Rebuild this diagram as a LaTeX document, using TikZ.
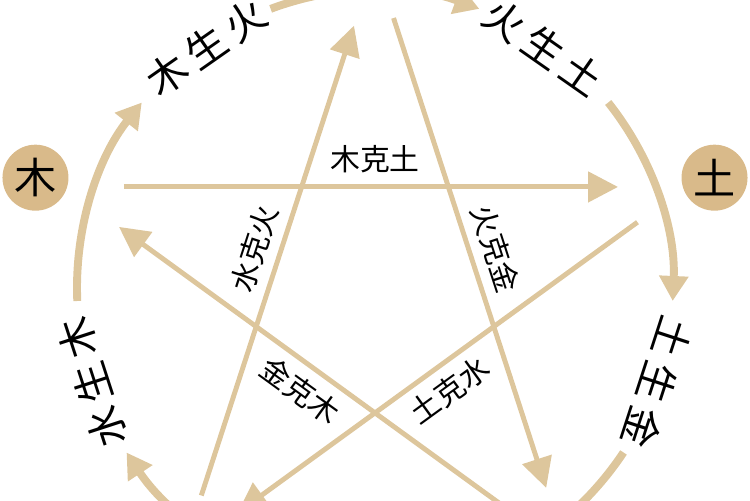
\documentclass[tikz,border=0pt]{standalone}
\usepackage{fontspec}
\newfontfamily\cjk{Noto Sans CJK SC}
\usetikzlibrary{shapes,positioning,arrows.meta}
\definecolor{elemfill}{RGB}{217,186,138}
\definecolor{arrowtan}{RGB}{221,198,156}

\begin{document}
\begin{tikzpicture}[x=0.02cm,y=0.02cm,font=\cjk,
    elem/.style={circle,fill=elemfill,minimum size=1.32cm,inner sep=0,font=\cjk\fontsize{24}{28}\selectfont},
    shenglabel/.style={inner sep=0,font=\cjk\fontsize{23}{27}\selectfont},
    kelabel/.style={sloped,midway,font=\cjk\fontsize{17}{20}\selectfont},
    sheng/.style={draw=arrowtan,line width=4.5pt,-{Triangle[length=0.5cm,width=0.56cm]}},
    ke/.style={draw=arrowtan,line width=2.8pt,shorten <=1.2cm,shorten >=1.36cm,-{Triangle[length=0.6cm,width=0.6cm]}}]

\path[use as bounding box,clip] (-375,-212) rectangle (375,288);

% Elements
\node[elem] (wood) at (162:357) {木};
\node[elem] (earth) at (18:357) {土};
\coordinate (fire) at (90:357);
\coordinate (metal) at (-54:357);
\coordinate (water) at (234:357);

% Star points
\coordinate (woodstar) at (162:327);
\coordinate (firestar) at (90:327);
\coordinate (earthstar) at (18:327);
\coordinate (metalstar) at (-54:327);
\coordinate (waterstar) at (234:327);

% Outer ring starts
\coordinate (woodarc) at (182.5:298);
\coordinate (firearc) at (110.5:298);
\coordinate (eartharc) at (38.5:298);
\coordinate (metalarc) at (-33.5:298);
\coordinate (waterarc) at (254.5:298);

% Outer labels
\node[shenglabel,rotate=35] (mushenghuo) at (125:294) {木\,生\,火};
\node[shenglabel,rotate=-35] (huoshengtu) at (55:294) {火\,生\,土};
\node[shenglabel,rotate=-108] (tushengjin) at (-18.5:298) {土\,生\,金};
\node[shenglabel,rotate=108] (shuishengmu) at (198.5:298) {水\,生\,木};

% Outer arrows
\draw[sheng] (woodarc) arc[start angle=182.5,end angle=141.5,radius=298];
\draw[sheng] (firearc) arc[start angle=110.5,end angle=69.5,radius=298];
\draw[sheng] (eartharc) arc[start angle=38.5,end angle=-2.5,radius=298];
\draw[sheng] (metalarc) arc[start angle=-33.5,end angle=-74.5,radius=298];
\draw[sheng] (waterarc) arc[start angle=254.5,end angle=213.5,radius=298];

% Star arrows
\draw[ke] (woodstar) -- node[kelabel,above=3pt] (muketu) {木克土} (earthstar);
\draw[ke] (earthstar) -- node[kelabel,below=2pt] (tukeshui) {土克水} (waterstar);
\draw[ke] (waterstar) -- node[kelabel,above=2pt] (shuikehuo) {水克火} (firestar);
\draw[ke] (firestar) -- node[kelabel,above=2pt] (huokejin) {火克金} (metalstar);
\draw[ke] (metalstar) -- node[kelabel,below=2pt] (jinkemu) {金克木} (woodstar);

\end{tikzpicture}
\end{document}
